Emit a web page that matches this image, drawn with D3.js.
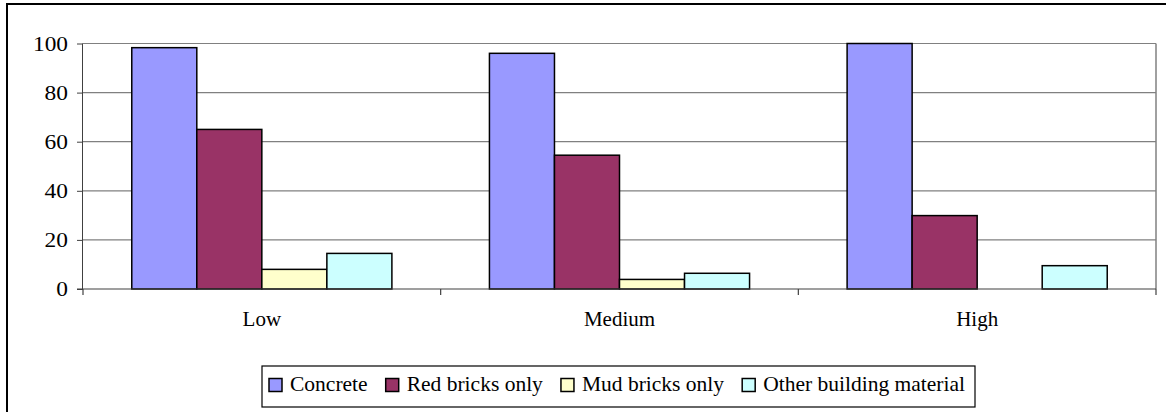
<!DOCTYPE html>
<html><head><meta charset="utf-8">
<script src="https://cdn.jsdelivr.net/npm/d3@7"></script>
<style>body{margin:0;background:#fff}svg{display:block}text{font-family:'Liberation Serif','Times New Roman',serif}</style>
</head><body>
<script>
const categories = ["Low", "Medium", "High"];
const seriesNames = ["Concrete", "Red bricks only", "Mud bricks only", "Other building material"];
const concrete = [98.3, 96.0, 100];
const redBricks = [65.0, 54.5, 29.9];
const mudBricks = [8.0, 3.9, 0];
const otherMaterial = [14.5, 6.4, 9.5];
const yTicks = [0, 20, 40, 60, 80, 100];
const colors = ["#9999ff", "#993366", "#ffffcc", "#ccffff"];
const seriesValues = [concrete, redBricks, mudBricks, otherMaterial];

const W = 1166, H = 412;
const svg = d3.select("body").append("svg").attr("width", W).attr("height", H);
const font = "'Liberation Serif','Times New Roman',serif";

// outer border
svg.append("rect").attr("x", 7).attr("y", 4).attr("width", W + 10).attr("height", H + 10)
  .attr("fill", "none").attr("stroke", "#000").attr("stroke-width", 2);

const m = {left: 83, right: 1156, top: 43.5, bottom: 289};
const x0 = d3.scaleBand().domain(categories).range([m.left, m.right]).paddingInner(0).paddingOuter(0);
const bw = x0.bandwidth();
const groupW = bw * 4 / 5.5;
const x1 = d3.scaleBand().domain(seriesNames).range([(bw - groupW) / 2, (bw + groupW) / 2]).padding(0);
const y = d3.scaleLinear().domain([0, 100]).range([m.bottom, m.top]);

// gridlines
svg.append("g").selectAll("line").data(yTicks.filter(d => d > 0)).join("line")
  .attr("x1", m.left).attr("x2", m.right)
  .attr("y1", d => y(d)).attr("y2", d => y(d))
  .attr("stroke", "#808080").attr("stroke-width", 1.2);
// right border of plot
svg.append("line").attr("x1", m.right).attr("x2", m.right).attr("y1", m.top).attr("y2", m.bottom)
  .attr("stroke", "#808080").attr("stroke-width", 1.5);

// bars
const data = [];
categories.forEach((c, i) => seriesNames.forEach((s, j) => data.push({c, s, v: seriesValues[j][i], j})));
svg.append("g").selectAll("rect").data(data.filter(d => d.v > 0)).join("rect")
  .attr("x", d => x0(d.c) + x1(d.s))
  .attr("y", d => y(d.v))
  .attr("width", x1.bandwidth())
  .attr("height", d => y(0) - y(d.v))
  .attr("fill", d => colors[d.j])
  .attr("stroke", "#000").attr("stroke-width", 1.5);

// y axis
const yAxis = d3.axisLeft(y).tickValues(yTicks).tickSize(6).tickPadding(9);
const gy = svg.append("g").attr("transform", `translate(${m.left},0)`).call(yAxis);
gy.attr("font-family", null).attr("font-size", null);
gy.select(".domain").attr("stroke", "#404040").attr("d", `M-0.5,${m.top}V${m.bottom}`);
gy.selectAll(".tick line").attr("stroke", "#404040");
gy.selectAll("text").style("font-family", font).style("font-size", "20px")
  .attr("fill", "#000").attr("textLength", 35).attr("lengthAdjust", "spacingAndGlyphs")
  .each(function(d) { if (String(d).length < 3) d3.select(this).attr("textLength", String(d).length * 11.7); })
  .attr("dy", "0.33em");

// x axis
const gx = svg.append("g").attr("transform", `translate(0,${m.bottom})`);
gx.append("line").attr("x1", m.left - 6).attr("x2", m.right).attr("y1", 0).attr("y2", 0)
  .attr("stroke", "#404040").attr("stroke-width", 1.2);
const bounds = categories.map(c => x0(c)).concat([m.right]);
gx.selectAll("line.tk").data(bounds).join("line").attr("class", "tk")
  .attr("x1", d => d).attr("x2", d => d).attr("y1", 0).attr("y2", 6)
  .attr("stroke", "#404040").attr("stroke-width", 1.2);
gx.selectAll("text").data(categories).join("text")
  .attr("x", d => x0(d) + bw / 2).attr("y", 37)
  .attr("text-anchor", "middle").style("font-family", font).style("font-size", "21px").text(d => d);

// legend
const lg = svg.append("g");
const boxL = 262, boxR = 975, boxT = 366, boxB = 407;
lg.append("rect").attr("fill", "#fff").attr("stroke", "#000").attr("stroke-width", 1.2)
  .attr("x", boxL).attr("y", boxT).attr("width", boxR - boxL).attr("height", boxB - boxT);
const texts = seriesNames.map(s => lg.append("text").style("font-family", font).style("font-size", "21.5px")
  .attr("y", 391).text(s));
const widths = texts.map(t => t.node().getComputedTextLength());
const startX = 269, endX = 965, swW = 13, swGap = 8;
const used = d3.sum(widths) + 4 * (swW + swGap);
const gap = (endX - startX - used) / 3;
let cx = startX;
seriesNames.forEach((s, i) => {
  lg.append("rect").attr("x", cx).attr("y", 378.5).attr("width", swW).attr("height", swW)
    .attr("fill", colors[i]).attr("stroke", "#000").attr("stroke-width", 1.5);
  texts[i].attr("x", cx + swW + swGap);
  cx += swW + swGap + widths[i] + gap;
});
</script>
</body></html>
